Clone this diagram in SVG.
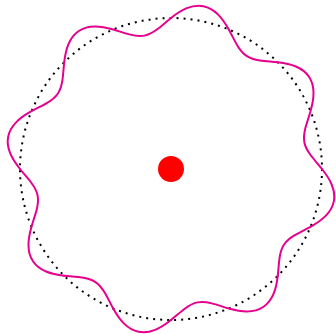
<svg xmlns="http://www.w3.org/2000/svg" xmlns:xlink="http://www.w3.org/1999/xlink" width="336" height="334" viewBox="0 0 336 334">
  <style>
    .dots { fill: none; stroke: #000; stroke-width: 2; stroke-dasharray: 2 5.028; }
    .wave { fill: none; stroke: #E8008C; stroke-width: 2; stroke-linecap: round; stroke-linejoin: round; }
  </style>
  <defs>
    <path id="w" class="wave" d="M151,0 C154.927,4.941 158.584,10.305 160.829,15.840 C163.074,21.375 163.870,27.057 162.810,32.385 C161.750,37.713 158.840,42.657 154.648,46.912 C150.456,51.167 145.025,54.722 139.506,57.785 C133.987,60.848 128.431,63.438 123.816,66.181 C119.201,68.924 115.553,71.857 113.080,75.558 C110.607,79.259 109.293,83.751 108.525,89.064 C107.757,94.377 107.490,100.502 106.773,106.773"/>
  </defs>
  <g transform="translate(171,169)">
    <circle class="dots" cx="0" cy="0" r="151"/>
    <g id="wave">
      <use xlink:href="#w"/>
      <use xlink:href="#w" transform="rotate(45)"/>
      <use xlink:href="#w" transform="rotate(90)"/>
      <use xlink:href="#w" transform="rotate(135)"/>
      <use xlink:href="#w" transform="rotate(180)"/>
      <use xlink:href="#w" transform="rotate(225)"/>
      <use xlink:href="#w" transform="rotate(270)"/>
      <use xlink:href="#w" transform="rotate(315)"/>
    </g>
    <circle cx="0" cy="0" r="13" fill="#FF0000"/>
  </g>
</svg>
